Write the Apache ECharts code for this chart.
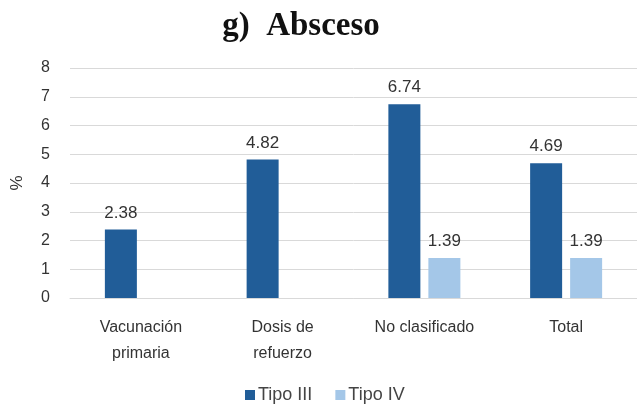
<!DOCTYPE html>
<html>
<head>
<meta charset="utf-8">
<script src="https://cdn.jsdelivr.net/npm/echarts@6/dist/echarts.min.js"></script>
<style>
  html, body { margin: 0; padding: 0; background: #fff; }
  #chart { width: 637px; height: 406px; }
</style>
</head>
<body>
<div id="chart"></div>
<script>
// Abscess rates (%) by vaccination group
const categories = ['Vacunación\nprimaria', 'Dosis de\nrefuerzo', 'No clasificado', 'Total'];
const tipoIII = [2.38, 4.82, 6.74, 4.69];
const tipoIV = [null, null, 1.39, 1.39];
const seriesNames = ['Tipo III', 'Tipo IV'];

const chart = echarts.init(document.getElementById('chart'));
const labelStyle = {
  show: true,
  position: 'top',
  distance: 8,
  color: '#333',
  fontSize: 17,
  fontFamily: 'Liberation Sans, Arial, sans-serif',
  formatter: p => p.value.toFixed(2)
};

chart.setOption({
  animation: false,
  title: {
    text: 'g)  Absceso',
    left: 296,
    textAlign: 'center',
    top: 5,
    textStyle: {
      fontFamily: 'Liberation Serif, Times New Roman, serif',
      fontWeight: 'bold',
      fontSize: 33,
      color: '#111'
    }
  },
  legend: {
    data: seriesNames,
    left: 245,
    top: 386,
    padding: 0,
    itemWidth: 10,
    itemHeight: 10,
    itemGap: 23,
    icon: 'rect',
    textStyle: { fontSize: 18, color: '#444', fontFamily: 'Liberation Sans, Arial, sans-serif', padding: [0, 0, 0, -2] }
  },
  grid: { left: 70, right: 0, top: 68, bottom: 108 },
  xAxis: {
    type: 'category',
    data: categories,
    axisLine: { show: true, lineStyle: { color: '#d9d9d9' } },
    axisTick: { show: false },
    axisLabel: {
      color: '#333',
      fontSize: 16,
      lineHeight: 26,
      margin: 17,
      fontFamily: 'Liberation Sans, Arial, sans-serif'
    }
  },
  yAxis: {
    type: 'value',
    min: 0,
    max: 8,
    interval: 1,
    name: '%',
    nameLocation: 'middle',
    nameGap: 44,
    nameRotate: 90,
    nameTextStyle: { fontSize: 17, color: '#333', fontFamily: 'Liberation Sans, Arial, sans-serif' },
    axisLine: { show: false },
    axisTick: { show: false },
    axisLabel: { color: '#333', fontSize: 16, margin: 20, fontFamily: 'Liberation Sans, Arial, sans-serif' },
    splitLine: { lineStyle: { color: '#d9d9d9', width: 1 } }
  },
  series: [
    {
      name: seriesNames[0],
      type: 'bar',
      data: tipoIII,
      barWidth: 32,
      barGap: '25%',
      itemStyle: { color: '#215d98' },
      label: labelStyle
    },
    {
      name: seriesNames[1],
      type: 'bar',
      data: tipoIV,
      barWidth: 32,
      itemStyle: { color: '#a4c7e8' },
      label: labelStyle
    }
  ]
});
</script>
</body>
</html>
